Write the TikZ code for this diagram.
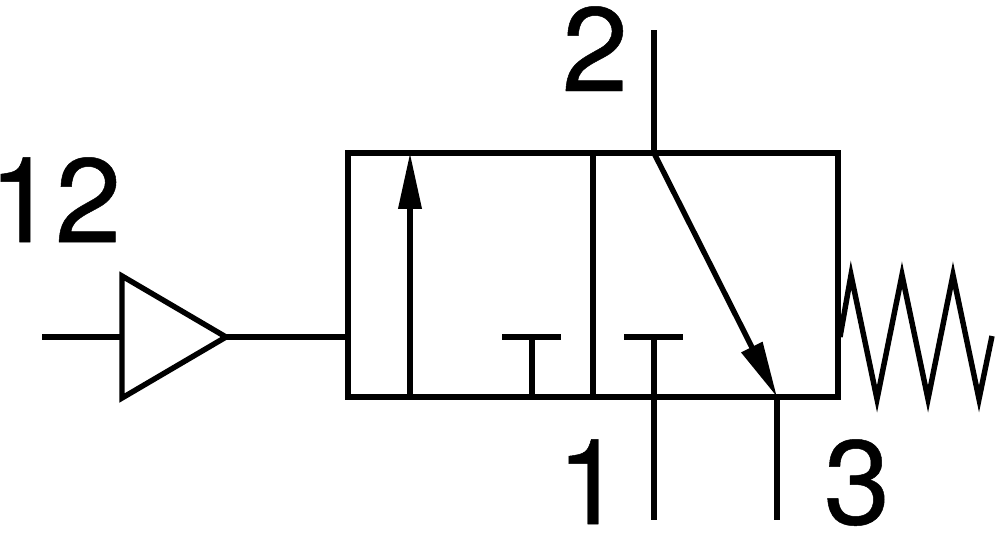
\documentclass[tikz,border=0pt]{standalone}
\usepackage{fontspec}
\setmainfont[FakeBold=0.4]{TeX Gyre Heros}
\usetikzlibrary{arrows.meta,positioning,calc}
\tikzstyle{portlabel}=[inner sep=0pt,font=\fontsize{68pt}{68pt}\selectfont]
\tikzstyle{valveline}=[line width=3.1pt]
\tikzstyle{flow}=[valveline,-{Triangle[length=1.12cm,width=0.45cm]}]
\begin{document}
\begin{tikzpicture}[x=0.02cm,y=-0.02cm,valveline]
    \useasboundingbox (0,0) rectangle (1000,532);
    % valve body
    \coordinate (tl) at (348,153);
    \coordinate (tr) at (838,153);
    \coordinate (bl) at (348,397);
    \coordinate (br) at (838,397);
    \coordinate (midt) at (593,153);
    \coordinate (midb) at (593,397);
    \draw (tl) -- (tr) -- (br) -- (bl) -- cycle;
    \draw (midt) -- (midb);
    % ports
    \coordinate (p2top) at (654,30);
    \coordinate (p2) at (654,153);
    \coordinate (p3) at (777,397);
    \coordinate (p3end) at (777,520);
    \coordinate (p1top) at (654,337);
    \coordinate (p1end) at (654,520);
    \draw (p2top) -- (p2);
    \draw (p3) -- (p3end);
    \draw (p1top) -- (p1end);
    \coordinate (capal) at (624,337);
    \coordinate (capar) at (683,337);
    \draw (capal) -- (capar);
    \coordinate (capbl) at (502,337);
    \coordinate (capbr) at (561,337);
    \coordinate (capbt) at (532,337);
    \coordinate (capbb) at (532,397);
    \draw (capbl) -- (capbr);
    \draw (capbt) -- (capbb);
    % flow arrows
    \coordinate (upb) at (410,397);
    \coordinate (upt) at (410,153);
    \draw [flow] (upb) -- (upt);
    \draw [flow] (p2) -- (p3);
    % pilot
    \coordinate (pilotin) at (42,337);
    \coordinate (tria) at (122,276);
    \coordinate (trib) at (122,398);
    \coordinate (tric) at (226,337);
    \coordinate (triin) at (122,337);
    \coordinate (bodyin) at (348,337);
    \draw (tria) -- (tric) -- (trib) -- cycle;
    \draw (pilotin) -- (triin);
    \draw (tric) -- (bodyin);
    % spring
    \coordinate (s0) at (840,337);
    \coordinate (s1) at (851,275);
    \coordinate (s2) at (877,399);
    \coordinate (s3) at (902,275);
    \coordinate (s4) at (928,399);
    \coordinate (s5) at (953,275);
    \coordinate (s6) at (979,399);
    \coordinate (s7) at (992,336);
    \draw (s0) -- (s1) -- (s2) -- (s3) -- (s4) -- (s5) -- (s6) -- (s7);
    % labels
    \node [portlabel,anchor=base] (lab12) at (55,242) {12};
    \node [portlabel,anchor=base] (lab2) at (595,91) {2};
    \node [portlabel,anchor=base] (lab1) at (590,524) {1};
    \node [portlabel,anchor=base] (lab3) at (857,524) {3};
\end{tikzpicture}
\end{document}
